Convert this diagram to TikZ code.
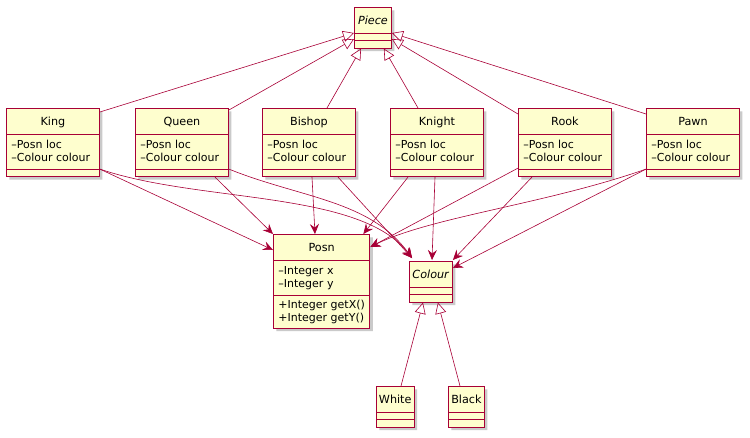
\documentclass[tikz,border=0pt]{standalone}
\usepackage{fontspec}
\setmainfont{DejaVu Sans}
\usetikzlibrary{arrows.meta,calc,shapes.multipart,shadows}
\definecolor{umlred}{HTML}{A80036}
\definecolor{umlfill}{HTML}{FEFECE}
\newcommand{\ctitle}[1]{\rule[-5pt]{0pt}{19pt}{\fontsize{11.2}{13}\selectfont #1}}
\newcommand{\topstrut}{\rule{0pt}{11pt}}
\newcommand{\botstrut}{\rule[-4.5pt]{0pt}{0pt}}
\newcommand{\emptypart}{\rule{0pt}{0.5pt}}
\tikzset{
  cls/.style={draw=umlred, line width=0.9pt, fill=umlfill, rectangle split, rectangle split parts=3,
              rectangle split part align={center,left,left}, align=left,
              inner xsep=5pt, inner ysep=3pt,
              font=\fontsize{11}{12.5}\selectfont, minimum width=93pt, anchor=north west,
              drop shadow={shadow xshift=3pt, shadow yshift=-3pt, fill=black!35, opacity=0.6}},
  small/.style={minimum width=#1, inner xsep=2.5pt},
  % ---- connectors ----
  gen/.style={-{Triangle[open,length=11pt,width=11pt]}, draw=umlred, line width=0.6pt},
  dep/.style={-{Stealth[length=10pt,width=9pt,inset=3.5pt]}, draw=umlred, line width=0.6pt},
}

\begin{document}
\begin{tikzpicture}[x=1pt, y=-1pt]
\useasboundingbox (0,0) rectangle (750,437);
% abstract base
\node[cls, small=37pt] (Piece) at (354,7) {\ctitle{\textit{Piece}} \nodepart{two}\emptypart \nodepart{three}\emptypart};
% the six pieces
\node[cls] (King)   at (6,108)   {\ctitle{King}   \nodepart{two}\topstrut–Posn loc\\–Colour colour\botstrut \nodepart{three}\emptypart};
\node[cls] (Queen)  at (135,108) {\ctitle{Queen}  \nodepart{two}\topstrut–Posn loc\\–Colour colour\botstrut \nodepart{three}\emptypart};
\node[cls] (Bishop) at (262,108) {\ctitle{Bishop} \nodepart{two}\topstrut–Posn loc\\–Colour colour\botstrut \nodepart{three}\emptypart};
\node[cls] (Knight) at (390,108) {\ctitle{Knight} \nodepart{two}\topstrut–Posn loc\\–Colour colour\botstrut \nodepart{three}\emptypart};
\node[cls] (Rook)   at (518,108) {\ctitle{Rook}   \nodepart{two}\topstrut–Posn loc\\–Colour colour\botstrut \nodepart{three}\emptypart};
\node[cls] (Pawn)   at (646,108) {\ctitle{Pawn}   \nodepart{two}\topstrut–Posn loc\\–Colour colour\botstrut \nodepart{three}\emptypart};
% position and colour
\node[cls, minimum width=94pt] (Posn) at (273,234) {\ctitle{Posn}
  \nodepart{two}\topstrut–Integer x\\–Integer y\botstrut
  \nodepart{three}\rule{0pt}{10pt}+Integer getX()\\+Integer getY()\rule[-3.5pt]{0pt}{0pt}};
\node[cls, small=43pt] (Colour) at (409,261) {\ctitle{\textit{Colour}} \nodepart{two}\emptypart \nodepart{three}\emptypart};
\node[cls, small=37pt] (White) at (376,386) {\ctitle{White} \nodepart{two}\emptypart \nodepart{three}\emptypart};
\node[cls, small=36pt] (Black) at (448,386) {\ctitle{Black} \nodepart{two}\emptypart \nodepart{three}\emptypart};

% inheritance
\draw[gen] ($(King.north east)+(0,4)$) -- ($(Piece.north west)+(0,26)$);
\draw[gen] ($(Queen.north east)+(0,2)$) -- ($(Piece.north west)+(0,32)$);
\draw[gen] ($(Bishop.north west)+(65,0)$) -- ($(Piece.south west)+(7,0)$);
\draw[gen] ($(Knight.north west)+(28,0)$) -- ($(Piece.south east)+(-8,0)$);
\draw[gen] ($(Rook.north west)+(0,6)$) -- ($(Piece.north east)+(0,32)$);
\draw[gen] ($(Pawn.north west)+(0,6)$) -- ($(Piece.north east)+(0,26)$);
\draw[gen] ($(White.north west)+(25,0)$) -- ($(Colour.south west)+(14,0)$);
\draw[gen] ($(Black.north west)+(12,0)$) -- ($(Colour.south east)+(-15,0)$);

% uses
\draw[dep] ($(King.south east)+(0,-8)$) -- ($(Posn.north west)+(0,16)$);
\draw[dep] ($(King.south east)+(0,-8)$) .. controls +(100,34) and +(-52,-68) .. ($(Colour.north west)+(3,-3)$);
\draw[dep] ($(Queen.south west)+(80,0)$) -- ($(Posn.north west)+(0,0)$);
\draw[dep] ($(Queen.south east)+(0,-8)$) .. controls +(72,29) and +(-42,-58) .. ($(Colour.north west)+(3,-3)$);
\draw[dep] ($(Bishop.south west)+(50,0)$) -- ($(Posn.north west)+(42,0)$);
\draw[dep] ($(Bishop.south west)+(76,0)$) -- ($(Colour.north west)+(3,-3)$);
\draw[dep] ($(Knight.south west)+(18,0)$) -- ($(Posn.north east)+(-7,0)$);
\draw[dep] ($(Knight.south west)+(45,0)$) -- ($(Colour.north west)+(23,-1)$);
\draw[dep] ($(Rook.south west)+(0,-9)$) -- ($(Posn.north east)+(0,13)$);
\draw[dep] ($(Rook.south west)+(14,0)$) -- ($(Colour.north east)+(0,-1)$);
\draw[dep] ($(Pawn.south west)+(0,-8)$) .. controls +(-100,35) and +(60,-30) .. ($(Posn.north east)+(0,13)$);
\draw[dep] ($(Pawn.south west)+(0,-8)$) -- ($(Colour.north east)+(0,7)$);
\end{tikzpicture}
\end{document}
